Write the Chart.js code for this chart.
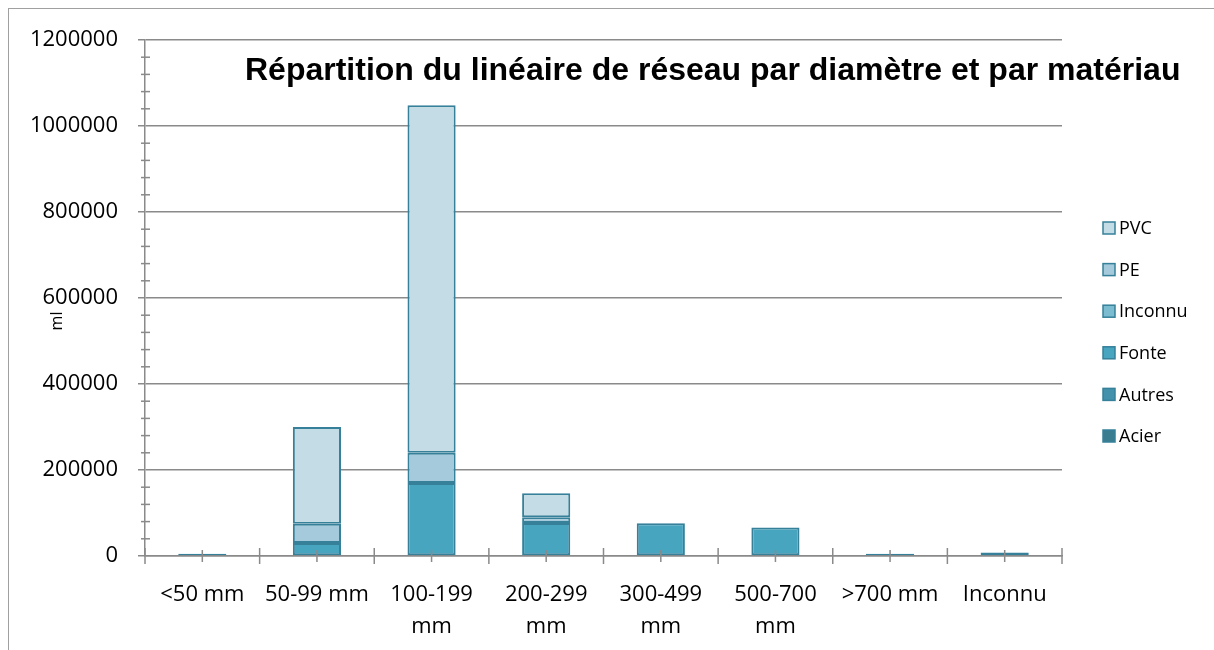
<!DOCTYPE html>
<html>
<head>
<meta charset="utf-8">
<script src="https://cdn.jsdelivr.net/npm/chart.js@4.4.0/dist/chart.umd.min.js"></script>
<style>
  html, body { margin: 0; padding: 0; background: #fff; }
  #wrap { position: relative; width: 1214px; height: 650px; overflow: hidden; }
  #frame { position: absolute; left: 8px; top: 8px; width: 1400px; height: 900px;
           border-left: 1px solid #a0a0a0; border-top: 1px solid #a0a0a0; }
  canvas { position: absolute; left: 0; top: 0; }
</style>
</head>
<body>
<div id="wrap">
  <div id="frame"></div>
  <canvas id="chart" width="1214" height="650"></canvas>
</div>
<script>
// Diameter classes (x categories); two-line labels are arrays.
const categories = ['<50 mm', '50-99 mm', ['100-199', 'mm'], ['200-299', 'mm'],
  ['300-499', 'mm'], ['500-700', 'mm'], '>700 mm', 'Inconnu'];

// Linear metres per material (stacked bottom -> top).
const acier   = [0, 0, 0, 0, 0, 0, 0, 0];
const autres  = [0, 0, 0, 0, 0, 0, 0, 0];
const fonte   = [5000, 30000, 170000, 77000, 76000, 66000, 5000, 8000];
const inconnu = [0, 0, 0, 0, 0, 0, 0, 0];
const pe      = [0, 45000, 70000, 13000, 0, 0, 0, 0];
const pvc     = [0, 225000, 808000, 56000, 0, 0, 0, 0];

const yTicks = [0, 200000, 400000, 600000, 800000, 1000000, 1200000];
const minorStep = 40000;

const titleText = 'Répartition du linéaire de réseau par diamètre et par matériau';
const yTitle = 'ml';
const edge = '#36809a';
const axisGray = '#8a8a8a';

function series(label, data, color) {
  return {
    label, data,
    backgroundColor: color,
    borderColor: edge,
    borderWidth: 2,
    borderSkipped: false,
    barPercentage: 0.42,
    categoryPercentage: 1,
  };
}

// Extra decoration: crossing tick marks, minor ticks, titles and legend.
const decor = {
  id: 'decor',
  afterDraw(chart) {
    const { ctx, chartArea: a, scales: { x, y } } = chart;
    ctx.save();
    ctx.strokeStyle = axisGray;
    ctx.lineWidth = 1.5;

    for (let v = minorStep; v < yTicks[yTicks.length - 1]; v += minorStep) {
      if (v % 200000 === 0) continue;
      const py = y.getPixelForValue(v);
      ctx.beginPath();
      ctx.moveTo(a.left - 4, py);
      ctx.lineTo(a.left + 5, py);
      ctx.stroke();
    }

    const n = categories.length;
    for (let i = 0; i <= n; i++) {
      let px;
      if (i === 0) px = a.left;
      else if (i === n) px = a.right;
      else px = (x.getPixelForValue(i - 1) + x.getPixelForValue(i)) / 2;
      ctx.beginPath();
      ctx.moveTo(px, a.bottom - 8);
      ctx.lineTo(px, a.bottom + 8);
      ctx.stroke();
    }
    for (let i = 0; i < n; i++) {
      const px = x.getPixelForValue(i);
      ctx.beginPath();
      ctx.moveTo(px, a.bottom - 6);
      ctx.lineTo(px, a.bottom + 6);
      ctx.stroke();
    }

    ctx.fillStyle = '#000';
    ctx.font = 'bold 32px "Liberation Sans", Arial, sans-serif';
    ctx.textBaseline = 'alphabetic';
    ctx.textAlign = 'left';
    ctx.fillText(titleText, 245, 80);

    ctx.save();
    ctx.translate(57, 321);
    ctx.rotate(-Math.PI / 2);
    ctx.font = '16px "Open Sans", sans-serif';
    ctx.textAlign = 'center';
    ctx.textBaseline = 'middle';
    ctx.fillText(yTitle, 0, 0);
    ctx.restore();

    const sets = chart.data.datasets.slice().reverse();
    ctx.font = '18px "Open Sans", sans-serif';
    ctx.textBaseline = 'middle';
    ctx.textAlign = 'left';
    sets.forEach((ds, i) => {
      const cy = 228 + i * 41.6;
      ctx.fillStyle = ds.backgroundColor;
      ctx.fillRect(1103, cy - 6, 12, 12);
      ctx.strokeStyle = edge;
      ctx.lineWidth = 1.5;
      ctx.strokeRect(1103, cy - 6, 12, 12);
      ctx.fillStyle = '#000';
      ctx.fillText(ds.label, 1119, cy + 1);
    });
    ctx.restore();
  },
};

new Chart(document.getElementById('chart'), {
  type: 'bar',
  data: {
    labels: categories,
    datasets: [
      series('Acier', acier, '#3a7d91'),
      series('Autres', autres, '#4391ab'),
      series('Fonte', fonte, '#48a5c0'),
      series('Inconnu', inconnu, '#7bbcd0'),
      series('PE', pe, '#a4cadb'),
      series('PVC', pvc, '#c4dce5'),
    ],
  },
  options: {
    responsive: false,
    animation: false,
    layout: { padding: { top: 40, right: 152, left: 0, bottom: 0 } },
    plugins: { legend: { display: false }, tooltip: { enabled: false } },
    scales: {
      x: {
        stacked: true,
        grid: { display: false },
        border: { color: axisGray, width: 1.5 },
        ticks: {
          color: '#000',
          padding: 15,
          maxRotation: 0,
          autoSkip: false,
          font: { family: '"Open Sans", sans-serif', size: 22, lineHeight: 1.45 },
        },
        afterFit(scale) { scale.height = 94; },
      },
      y: {
        stacked: true,
        min: 0,
        max: yTicks[yTicks.length - 1],
        afterBuildTicks(scale) { scale.ticks = yTicks.map((v) => ({ value: v })); },
        grid: { color: axisGray, lineWidth: 1.5, tickLength: 7 },
        border: { color: axisGray, width: 1.5 },
        ticks: {
          color: '#000',
          padding: 20,
          callback: (v) => String(v),
          font: { family: '"Open Sans", sans-serif', size: 22 },
        },
        afterFit(scale) { scale.width = 145; },
      },
    },
  },
  plugins: [decor],
});
</script>
</body>
</html>
